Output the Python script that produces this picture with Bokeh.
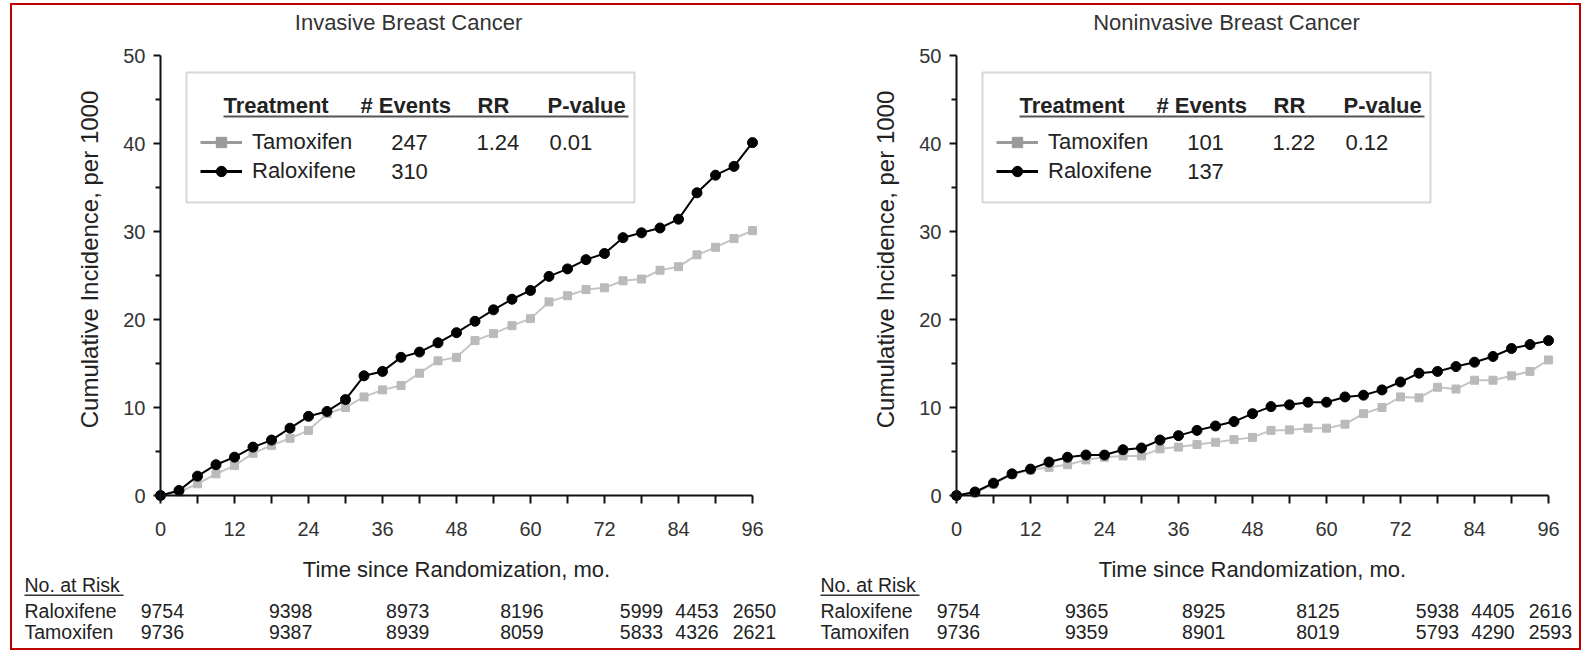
import math
from bokeh.plotting import figure
from bokeh.layouts import row
from bokeh.models import (Label, LabelSet, ColumnDataSource, BoxAnnotation, Legend,
                          LegendItem, FixedTicker, Range1d)
from bokeh.core.properties import value
from bokeh.embed import file_html
from bokeh.resources import INLINE

# ---------------- data ----------------
months = list(range(0, 97, 3))

inv_raloxifene = [0, 0.57, 2.2, 3.5, 4.36, 5.5, 6.3, 7.65, 9.0, 9.55, 10.9, 13.6, 14.1, 15.7, 16.3,
                  17.35, 18.5, 19.8, 21.1, 22.3, 23.3, 24.9, 25.75, 26.8, 27.5, 29.3, 29.85, 30.4,
                  31.4, 34.4, 36.4, 37.4, 40.1]
inv_tamoxifen = [0, 0.4, 1.33, 2.46, 3.4, 4.8, 5.7, 6.5, 7.4, 9.3, 10.0, 11.2, 12.0, 12.5, 13.9,
                 15.3, 15.7, 17.6, 18.4, 19.3, 20.1, 22.0, 22.7, 23.4, 23.6, 24.4, 24.6, 25.6,
                 26.0, 27.35, 28.2, 29.2, 30.1]
non_raloxifene = [0, 0.4, 1.4, 2.46, 3.0, 3.8, 4.35, 4.6, 4.6, 5.2, 5.4, 6.3, 6.8, 7.4, 7.9, 8.4,
                  9.3, 10.1, 10.3, 10.6, 10.6, 11.2, 11.4, 12.0, 12.9, 13.9, 14.1, 14.65, 15.15,
                  15.8, 16.7, 17.15, 17.6]
non_tamoxifen = [0, 0.3, 1.3, 2.4, 2.9, 3.2, 3.5, 4.05, 4.35, 4.5, 4.5, 5.3, 5.5, 5.8, 6.05, 6.35,
                 6.6, 7.4, 7.45, 7.65, 7.65, 8.1, 9.3, 10.0, 11.2, 11.1, 12.3, 12.1, 13.1, 13.1,
                 13.6, 14.1, 15.4]

x_ticks = [0, 12, 24, 36, 48, 60, 72, 84, 96]
x_minor = [6, 18, 30, 42, 54, 66, 78, 90]
y_ticks = [0, 10, 20, 30, 40, 50]
y_minor = [5, 15, 25, 35, 45]

titles = ["Invasive Breast Cancer", "Noninvasive Breast Cancer"]
x_title = "Time since Randomization, mo."
y_title = "Cumulative Incidence, per 1000"
events_tamoxifen = ["247", "101"]
events_raloxifene = ["310", "137"]
rr_values = ["1.24", "1.22"]
p_values = ["0.01", "0.12"]

inv_risk_raloxifene = ["9754", "9398", "8973", "8196", "5999", "4453", "2650"]
inv_risk_tamoxifen = ["9736", "9387", "8939", "8059", "5833", "4326", "2621"]
non_risk_raloxifene = ["9754", "9365", "8925", "8125", "5938", "4405", "2616"]
non_risk_tamoxifen = ["9736", "9359", "8901", "8019", "5793", "4290", "2593"]

# ---------------- layout constants ----------------
RISK_X = [0.3, 21.1, 40.1, 58.6, 78.0, 87.0, 96.3]   # at-risk column centres (months)
TITLE_DX = [248, 270]                                # title centre, px right of the y axis

FONT = "Liberation Sans"
TXT = "#222222"
GRAY_LINE = "#c4c4c4"
GRAY_MARK = "#bababa"
GRAY_LEG = "#9a9a9a"

PXX = 592 / 96.0      # px per month
PXY = 8.8             # px per unit of incidence
AY0 = 495             # page y of incidence 0
FIG_Y0 = 5            # page y of figure top
FIG_H = 643
FIG_Y1 = FIG_Y0 + FIG_H


def make_panel(idx, ralox, tamox, risk_r, risk_t, fig_x0, width, ax0):
    p = figure(width=width, height=FIG_H, output_backend="svg", toolbar_location=None,
               x_range=Range1d((fig_x0 - ax0) / PXX, (fig_x0 + width - ax0) / PXX),
               y_range=Range1d((AY0 - FIG_Y1) / PXY, (AY0 - FIG_Y0) / PXY),
               min_border=0)
    p.title = None
    p.outline_line_color = None
    p.grid.visible = False

    def sx(page_x):
        return page_x - fig_x0

    def sy(page_y):
        return FIG_Y1 - page_y

    xa = p.xaxis[0]
    ya = p.yaxis[0]
    for ax in (xa, ya):
        ax.fixed_location = 0
        ax.axis_line_width = 2
        ax.axis_line_color = "#111111"
        ax.major_tick_line_width = 2
        ax.minor_tick_line_width = 2
        ax.major_tick_line_color = "#111111"
        ax.minor_tick_line_color = "#111111"
        ax.major_tick_in = 0
        ax.minor_tick_in = 0
        ax.major_label_text_font = FONT
        ax.major_label_text_font_size = "20px"
        ax.major_label_text_color = "#333333"
    xa.ticker = FixedTicker(ticks=x_ticks, minor_ticks=x_minor)
    xa.bounds = (0, 96)
    xa.major_tick_out = 8
    xa.minor_tick_out = 8
    xa.major_label_standoff = 18

    ya.ticker = FixedTicker(ticks=y_ticks, minor_ticks=y_minor)
    ya.bounds = (0, 50)
    ya.major_tick_out = 7
    ya.minor_tick_out = 5
    ya.major_label_standoff = 8

    src = ColumnDataSource(dict(t=months, r=ralox, m=tamox))
    p.line("t", "m", source=src, line_color=GRAY_LINE, line_width=2)
    p.scatter("t", "m", source=src, marker="square", size=8, fill_color=GRAY_MARK,
              line_color=GRAY_MARK)
    p.line("t", "r", source=src, line_color="black", line_width=2)
    p.scatter("t", "r", source=src, marker="circle", size=10, fill_color="black",
              line_color="black")

    # legend (proxies that draw nothing on the plot)
    nan = [float("nan")]
    lt = p.line(nan, nan, line_color=GRAY_LEG, line_width=3)
    stt = p.scatter(nan, nan, marker="square", size=10, fill_color=GRAY_LEG, line_color=GRAY_LEG)
    lr = p.line(nan, nan, line_color="black", line_width=3)
    sr = p.scatter(nan, nan, marker="circle", size=10, fill_color="black", line_color="black")
    leg = Legend(items=[LegendItem(label="Tamoxifen", renderers=[lt, stt]),
                        LegendItem(label="Raloxifene", renderers=[lr, sr])],
                 location=(sx(ax0 + 40), sy(171 + 13)), margin=0, padding=0,
                 glyph_width=42, glyph_height=26, label_height=26, spacing=3,
                 label_standoff=10, border_line_alpha=0, background_fill_alpha=0,
                 label_text_font=FONT, label_text_font_size="22px", label_text_color=TXT)
    p.add_layout(leg, "center")

    def box(l, r, t, b, **kw):
        p.add_layout(BoxAnnotation(left=sx(l), right=sx(r), top=sy(t), bottom=sy(b),
                                   left_units="screen", right_units="screen",
                                   top_units="screen", bottom_units="screen", **kw))

    box(ax0 + 26, ax0 + 474, 72, 202, fill_alpha=0, line_color="#7a7a7a", line_width=2)
    box(ax0 + 63, ax0 + 468, 115, 117, fill_color="#555555", fill_alpha=1, line_alpha=0)

    def lab(text, px, py, align="left", bold=False, size="22px", color=TXT, angle=0.0):
        p.add_layout(Label(x=sx(px), y=sy(py), x_units="screen", y_units="screen", text=text,
                           text_align=align, text_baseline="middle", text_font=FONT,
                           text_font_size=size, text_color=color, angle=angle,
                           text_font_style="bold" if bold else "normal"))

    for text, x in (("Treatment", 63), ("# Events", 200), ("RR", 317), ("P-value", 387)):
        lab(text, ax0 + x, 105, bold=True)
    lab(events_tamoxifen[idx], ax0 + 249, 142, align="center")
    lab(events_raloxifene[idx], ax0 + 249, 171, align="center")
    lab(rr_values[idx], ax0 + 316, 142)
    lab(p_values[idx], ax0 + 389, 142)

    lab(titles[idx], ax0 + TITLE_DX[idx], 22, align="center", size="22px", color="#333333")
    lab(y_title, ax0 - 71, 259, align="center", size="24px", angle=math.pi / 2)
    lab(x_title, ax0 + 296, 569, align="center", size="22px")

    # ---------------- at-risk table ----------------
    TS = "19.5px"
    lab("No. at Risk", ax0 - 136, 584, size=TS)
    box(ax0 - 136, ax0 - 136 + 99, 594, 595.5, fill_color="#333333", fill_alpha=1, line_alpha=0)
    lab("Raloxifene", ax0 - 136, 610, size=TS)
    lab("Tamoxifen", ax0 - 136, 631, size=TS)
    for vals, py in ((risk_r, 610), (risk_t, 631)):
        p.add_layout(LabelSet(x="x", y=sy(py), y_units="screen", text="text",
                              source=ColumnDataSource(dict(x=RISK_X, text=vals)),
                              text_align="center", text_baseline="middle",
                              text_font=value(FONT), text_font_size=value(TS),
                              text_color=TXT))
    return p


p1 = make_panel(0, inv_raloxifene, inv_tamoxifen, inv_risk_raloxifene, inv_risk_tamoxifen,
                12, 784, 160)
p2 = make_panel(1, non_raloxifene, non_tamoxifen, non_risk_raloxifene, non_risk_tamoxifen,
                796, 783, 956)

layout = row(p1, p2, spacing=0, margin=(3, 0, 0, 10), styles={"border": "2px solid #c00000"})

open("out.html", "w").write(file_html(layout, INLINE))
